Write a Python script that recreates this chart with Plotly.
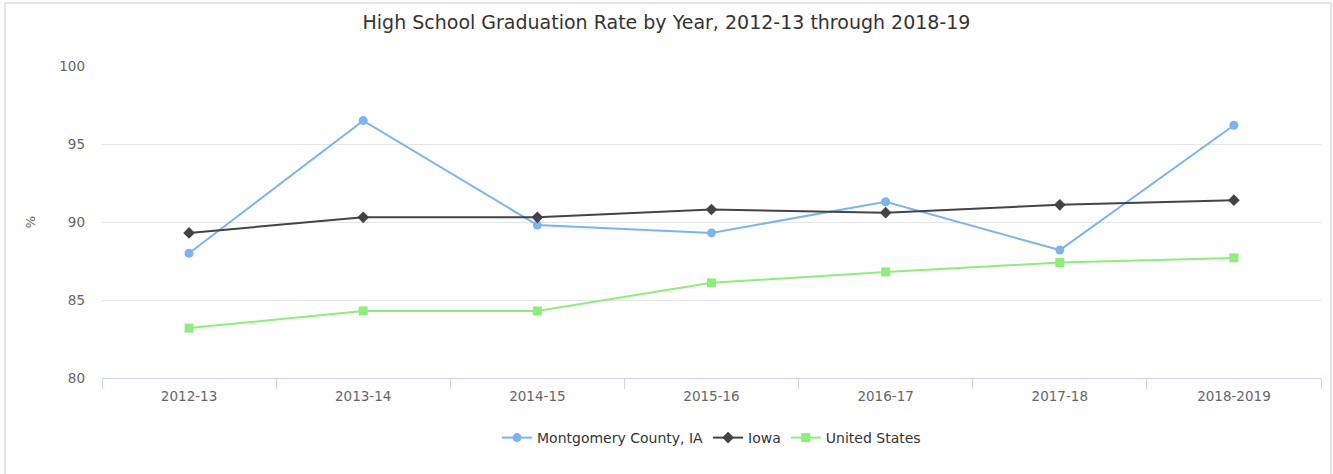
import plotly.graph_objects as go

years = ["2012-13", "2013-14", "2014-15", "2015-16", "2016-17", "2017-18", "2018-2019"]
montgomery = [88.0, 96.5, 89.8, 89.3, 91.3, 88.2, 96.2]
iowa = [89.3, 90.3, 90.3, 90.8, 90.6, 91.1, 91.4]
united_states = [83.2, 84.3, 84.3, 86.1, 86.8, 87.4, 87.7]

FONT = "DejaVu Sans"
W, H = 1333, 474
ML, MR, MT, MB = 102, 12, 66, 96
PW, PH = W - ML - MR, H - MT - MB

fig = go.Figure()
series = [
    ("Montgomery County, IA", montgomery, "#7cb5ec", "circle", 9),
    ("Iowa", iowa, "#434348", "diamond", 9),
    ("United States", united_states, "#90ed7d", "square", 9),
]
for name, vals, color, symbol, size in series:
    fig.add_trace(go.Scatter(
        x=years, y=vals, name=name, mode="lines+markers",
        line=dict(color=color, width=2),
        marker=dict(color=color, symbol=symbol, size=size),
    ))

fig.update_layout(
    width=W, height=H,
    margin=dict(l=ML, r=MR, t=MT, b=MB),
    paper_bgcolor="white", plot_bgcolor="white",
    title=dict(text="High School Graduation Rate by Year, 2012-13 through 2018-19",
               x=0.5, xanchor="center", y=1 - 22 / H, yanchor="middle",
               font=dict(family=FONT, size=19, color="#333333")),
    font=dict(family=FONT, color="#666666", size=13),
    showlegend=True,
    legend=dict(orientation="h", x=0.5, xanchor="center", y=-(438 - (MT + PH)) / PH,
                yanchor="middle",
                font=dict(family=FONT, size=14, color="#333333"),
                itemwidth=30),
    xaxis=dict(type="category", range=[-0.5, 6.5], showgrid=False,
               showline=True, linecolor="#ccd6eb", linewidth=1,
               ticks="outside", tickson="boundaries", ticklen=10, tickcolor="#ccd6eb",
               ticklabelstandoff=6,
               tickfont=dict(size=13.5, color="#666666"), fixedrange=True),
    yaxis=dict(range=[80, 100], tickvals=[80, 85, 90, 95, 100],
               showgrid=True, gridcolor="#e6e6e6", gridwidth=1,
               zeroline=False, showline=False, ticks="",
               ticklabelstandoff=16,
               tickfont=dict(size=13.5, color="#666666"),
               title=dict(text="%", font=dict(size=13, color="#666666"), standoff=20)),
)

# Rounded-card frame around the whole chart
fig.add_shape(type="rect", xref="paper", yref="paper",
              x0=(5 - ML) / PW, x1=(1331 - ML) / PW,
              y0=-(480 - (MT + PH)) / PH, y1=1 + (MT - 3) / PH,
              line=dict(color="#dddddd", width=1.5), layer="below")

fig.write_html("out.html")
